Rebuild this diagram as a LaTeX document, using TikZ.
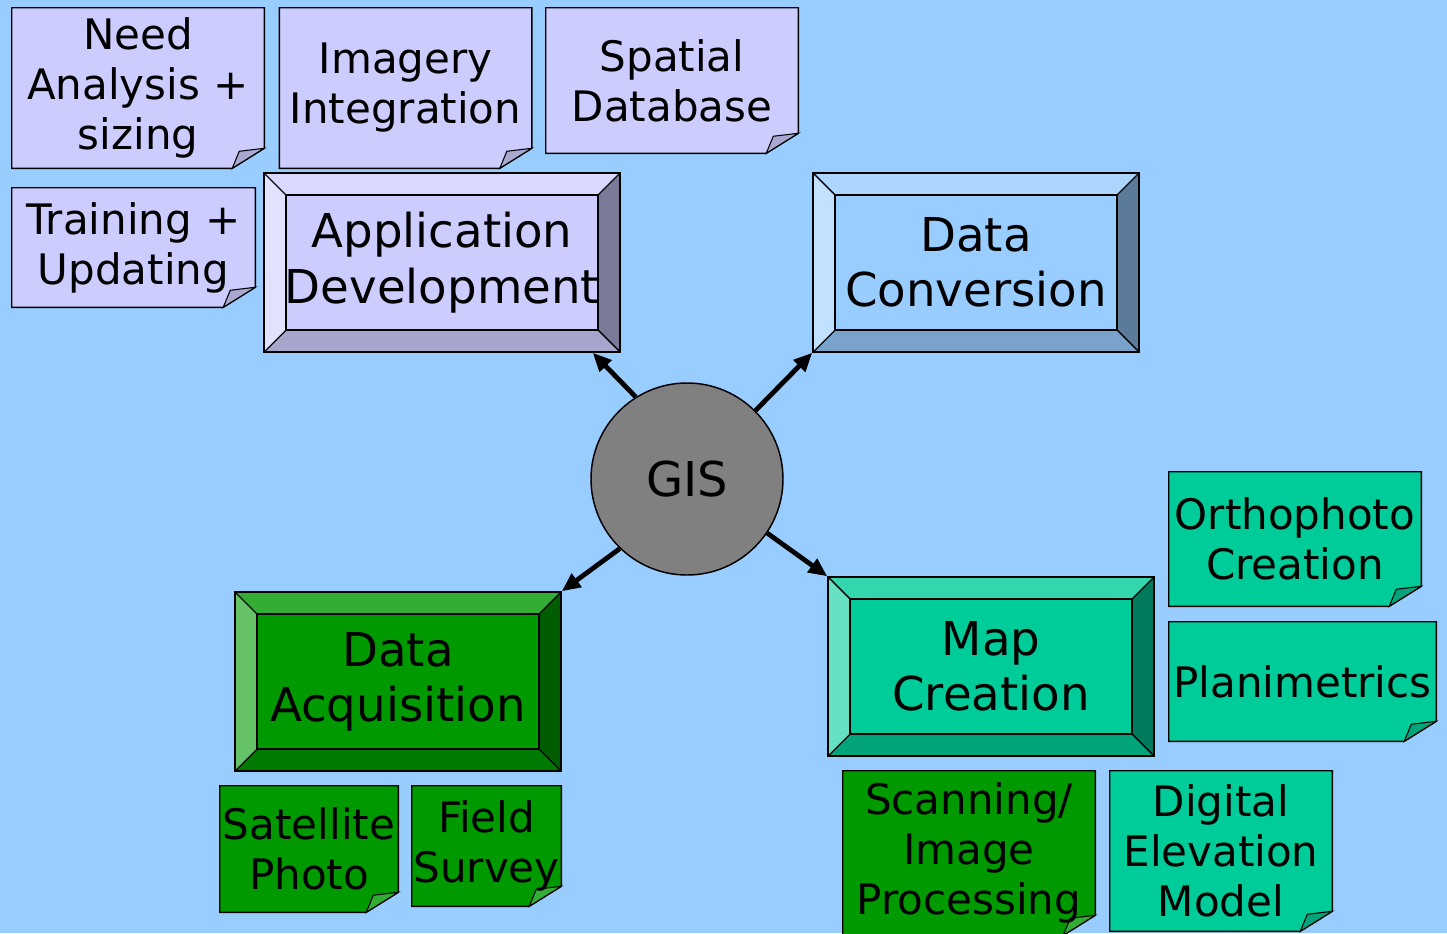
\documentclass[tikz,border=0pt]{standalone}
\usepackage{fontspec}
\setmainfont{DejaVu Sans}
\usetikzlibrary{arrows.meta,backgrounds,positioning}

\definecolor{sky}{HTML}{99CCFF}
\definecolor{lav}{HTML}{CCCCFF}\definecolor{lavT}{HTML}{D9D9FF}\definecolor{lavL}{HTML}{E2E2FF}
\definecolor{lavB}{HTML}{A6A6CC}\definecolor{lavR}{HTML}{7A7A99}\definecolor{lavF}{HTML}{A8A8D0}
\definecolor{blu}{HTML}{99CCFF}\definecolor{bluT}{HTML}{ADD6FF}\definecolor{bluL}{HTML}{C2E0FF}
\definecolor{bluB}{HTML}{7AA3CC}\definecolor{bluR}{HTML}{5C7A99}
\definecolor{grn}{HTML}{009900}\definecolor{grnT}{HTML}{33AD33}\definecolor{grnL}{HTML}{66C266}
\definecolor{grnB}{HTML}{007A00}\definecolor{grnR}{HTML}{005C00}\definecolor{grnF}{HTML}{33AD33}
\definecolor{tea}{HTML}{00CC99}\definecolor{teaT}{HTML}{33D6AD}\definecolor{teaL}{HTML}{66E0C2}
\definecolor{teaB}{HTML}{00A37A}\definecolor{teaR}{HTML}{007A5C}\definecolor{teaF}{HTML}{00A37A}
\definecolor{hubgray}{HTML}{808080}

\newcommand\boxfont{\fontsize{35}{41.5}\selectfont}
\newcommand\notefont{\fontsize{31.5}{37.5}\selectfont}
\newcommand\hubfont{\fontsize{36}{43}\selectfont}

\tikzset{
  bevelbox/.style={rectangle,draw,line width=1.1pt,fill=#1,inner sep=0pt,
    align=center,font=\boxfont,minimum height=134.25pt,
    path picture={
      \path (path picture bounding box.north west) coordinate (o1)
            (path picture bounding box.north east) coordinate (o2)
            (path picture bounding box.south east) coordinate (o3)
            (path picture bounding box.south west) coordinate (o4)
            ([shift={(16.5pt,-16.5pt)}]path picture bounding box.north west) coordinate (i1)
            ([shift={(-16.5pt,-16.5pt)}]path picture bounding box.north east) coordinate (i2)
            ([shift={(-16.5pt,16.5pt)}]path picture bounding box.south east) coordinate (i3)
            ([shift={(16.5pt,16.5pt)}]path picture bounding box.south west) coordinate (i4);
      \filldraw[fill=#1T,line width=0.8pt] (o1) -- (o2) -- (i2) -- (i1) -- cycle;
      \filldraw[fill=#1R,line width=0.8pt] (o2) -- (o3) -- (i3) -- (i2) -- cycle;
      \filldraw[fill=#1B,line width=0.8pt] (o3) -- (o4) -- (i4) -- (i3) -- cycle;
      \filldraw[fill=#1L,line width=0.8pt] (o4) -- (o1) -- (i1) -- (i4) -- cycle;
      \filldraw[fill=#1,line width=1.1pt] (i1) rectangle (i3);
    }},
  note/.style={rectangle,inner sep=0pt,align=center,font=\notefont},
  hub/.style={circle,draw,line width=1.1pt,fill=hubgray,minimum size=144pt,
    inner sep=0pt,font=\hubfont},
  link/.style={-{Triangle[length=14pt,width=12pt]},line width=3.6pt}
}

\begin{document}
\begin{tikzpicture}[x=0.75pt,y=-0.75pt]
  \useasboundingbox (0,0) rectangle (1447,933);

  % main boxes and hub
  \node[hub] (gis) at (687,479) {GIS};
  \node[bevelbox=lav,minimum width=267pt] (appdev) at (442,262.5) {Application\\Development};
  \node[bevelbox=blu,minimum width=244.5pt] (conv) at (976,262.5) {Data\\Conversion};
  \node[bevelbox=grn,minimum width=244.5pt] (acq) at (398,681.5) {Data\\Acquisition};
  \node[bevelbox=tea,minimum width=244.5pt] (mapc) at (991,666.5) {Map\\Creation};

  % notes
  \node[note,minimum width=189pt,minimum height=120pt] (need) at (138,88) {Need\\Analysis +\\sizing};
  \node[note,minimum width=189pt,minimum height=120pt,right=11.25pt of need] (imagery) {Imagery\\Integration};
  \node[note,minimum width=189pt,minimum height=108.75pt] (spatial) at (672,80.5) {Spatial\\Database};
  \node[note,minimum width=182.25pt,minimum height=89.25pt] (train) at (133.5,247.5) {Training +\\Updating};
  \node[note,minimum width=189pt,minimum height=100.5pt] (ortho) at (1295,539) {Orthophoto\\Creation};
  \node[note,minimum width=200.25pt,minimum height=89.25pt] (plan) at (1302.5,681.5) {Planimetrics};
  \node[note,minimum width=133.5pt,minimum height=94.5pt] (sat) at (309,849) {Satellite\\Photo};
  \node[note,minimum width=111.75pt,minimum height=90pt] (field) at (486.5,846) {Field\\Survey};
  \node[note,minimum width=189pt,minimum height=123pt] (scan) at (969,853) {Scanning/\\Image\\Processing};
  \node[note,minimum width=166.5pt,minimum height=120pt] (dem) at (1221,851) {Digital\\Elevation\\Model};

  % arrows out of the hub
  \draw[link] (gis.122) -- ([xshift=-21pt]appdev.south east);
  \draw[link] (gis.45) -- (conv.south west);
  \draw[link] (gis.-134) -- (acq.north east);
  \draw[link] (gis.-34) -- (mapc.north west);

  \begin{scope}[on background layer]
    \fill[sky] (0,0) rectangle (1447,933);
    \foreach \n/\col in {need/lav,imagery/lav,spatial/lav,train/lav,ortho/tea,
                         plan/tea,sat/grn,field/grn,scan/grn,dem/tea} {
      \filldraw[fill=\col,line width=1.1pt] (\n.north west) -- (\n.north east)
        -- ([yshift=15pt]\n.south east) -- ([xshift=-24pt]\n.south east)
        -- (\n.south west) -- cycle;
      \filldraw[fill=\col F,line width=0.8pt] ([xshift=-24pt]\n.south east)
        -- ([shift={(-18.75pt,12.75pt)}]\n.south east)
        -- ([yshift=15pt]\n.south east) -- cycle;
    }
  \end{scope}
\end{tikzpicture}
\end{document}
